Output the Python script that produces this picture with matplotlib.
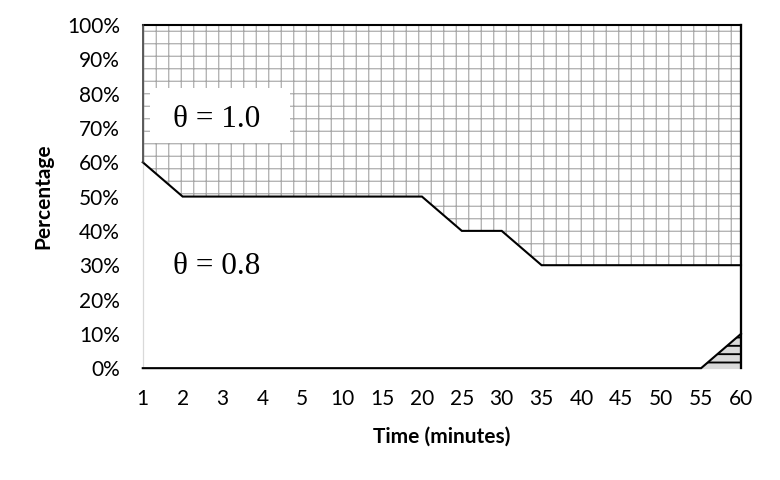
import matplotlib
matplotlib.use("Agg")
import matplotlib.pyplot as plt
from matplotlib.patches import Rectangle

# time points (categorical axis) and stacked shares in percent
times = ["1", "2", "3", "4", "5", "10", "15", "20", "25", "30",
         "35", "40", "45", "50", "55", "60"]
share_other = [0, 0, 0, 0, 0, 0, 0, 0, 0, 0, 0, 0, 0, 0, 0, 10]
share_08 = [60, 50, 50, 50, 50, 50, 50, 50, 40, 40, 30, 30, 30, 30, 30, 20]
share_10 = [40, 50, 50, 50, 50, 50, 50, 50, 60, 60, 70, 70, 70, 70, 70, 70]
yticks = [0, 10, 20, 30, 40, 50, 60, 70, 80, 90, 100]

plt.rcParams['font.family'] = ['Lato', 'DejaVu Sans']

x = list(range(len(times)))
c1 = share_other
c2 = [a + b for a, b in zip(c1, share_08)]
c3 = [a + b for a, b in zip(c2, share_10)]

fig = plt.figure(figsize=(5.2, 3.2), dpi=150)
ax = fig.add_axes([0.183, 0.233, 0.767, 0.715])

# bottom area: grey with dashes
with plt.rc_context({'hatch.linewidth': 0.9}):
    ax.fill_between(x, 0, c1, facecolor='#d9d9d9', edgecolor='black',
                    hatch='---', linewidth=0)
# theta = 0.8: plain white
ax.fill_between(x, c1, c2, facecolor='white', linewidth=0)
# theta = 1.0: small grid
with plt.rc_context({'hatch.linewidth': 0.55}):
    ax.fill_between(x, c2, c3, facecolor='white', edgecolor='#a6a6a6',
                    hatch='++', linewidth=0)

# outlines
for top in (c1, c2, c3):
    ax.plot(x, top, color='black', lw=1.0, solid_joinstyle='miter',
            clip_on=False, zorder=5)
ax.plot([x[-1], x[-1]], [0, c3[-1]], color='black', lw=1.1,
        clip_on=False, zorder=5)
ax.plot([x[0], x[0]], [c2[0], c3[0]], color='#404040', lw=0.8,
        clip_on=False, zorder=5)

# series labels
ax.add_patch(Rectangle((0.18, 65.6), 3.5, 16.0, facecolor='white',
                       edgecolor='none', zorder=3))
ax.text(1.86, 72.5, "θ = 1.0", ha='center', va='center', fontsize=15,
        family=['Liberation Serif', 'DejaVu Serif'], zorder=4)
ax.text(1.86, 29.5, "θ = 0.8", ha='center', va='center', fontsize=15,
        family=['Liberation Serif', 'DejaVu Serif'], zorder=4)

ax.set_xlim(0, len(times) - 1)
ax.set_ylim(0, 100)
ax.set_xticks(x)
ax.set_xticklabels(times)
ax.set_yticks(yticks)
ax.set_yticklabels([f"{v}%" for v in yticks])
ax.tick_params(axis='both', length=0, labelsize=10)
ax.tick_params(axis='x', pad=10)
ax.tick_params(axis='y', pad=11)

for s in ('top', 'right'):
    ax.spines[s].set_visible(False)
ax.spines['left'].set_color('#d9d9d9')
ax.spines['bottom'].set_color('#d9d9d9')
ax.spines['left'].set_linewidth(0.6)
ax.spines['bottom'].set_linewidth(0.6)

ax.set_xlabel("Time (minutes)", fontsize=10, fontweight='bold')
ax.set_ylabel("Percentage", fontsize=10, fontweight='bold')
ax.xaxis.set_label_coords(0.5, -0.17)
ax.yaxis.set_label_coords(-0.15, 0.5)

fig.savefig("out.png", dpi=150)
